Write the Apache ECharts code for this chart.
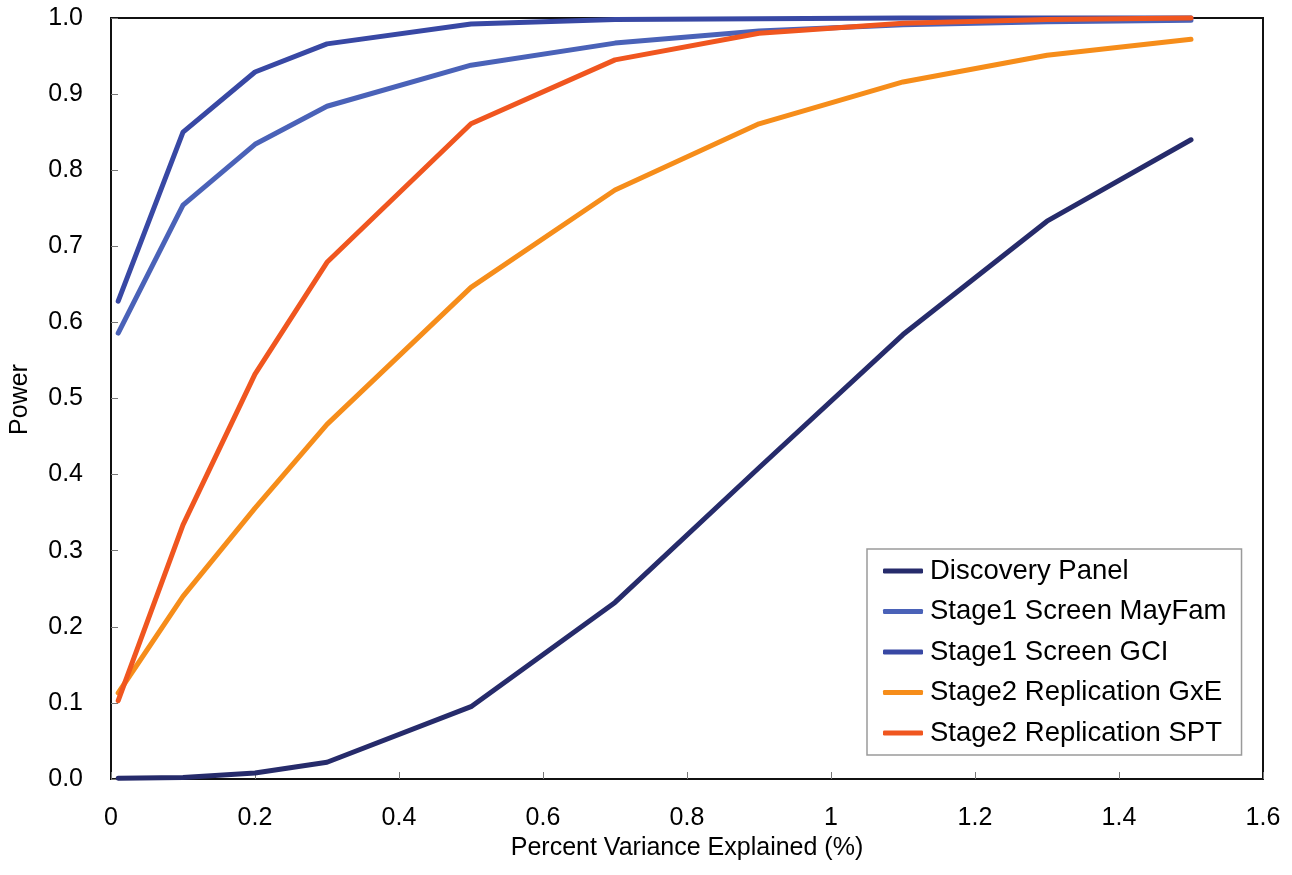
<!DOCTYPE html>
<html>
<head>
<meta charset="utf-8">
<title>Power vs Percent Variance Explained</title>
<script src="https://cdn.jsdelivr.net/npm/echarts@6/dist/echarts.min.js"></script>
<style>
  html, body { margin: 0; padding: 0; background: #ffffff; }
  #chart { width: 1292px; height: 875px; }
</style>
</head>
<body>
<div id="chart"></div>
<script>
// Percent variance explained (x values)
const varianceExplained = [0.01, 0.1, 0.2, 0.3, 0.5, 0.7, 0.9, 1.1, 1.3, 1.5];

// Power for each design
const discoveryPanel      = [0.001, 0.002, 0.008, 0.022, 0.095, 0.232, 0.409, 0.584, 0.733, 0.840];
const stage1MayFam        = [0.586, 0.754, 0.834, 0.884, 0.938, 0.967, 0.983, 0.991, 0.995, 0.997];
const stage1GCI           = [0.628, 0.850, 0.929, 0.966, 0.992, 0.998, 0.999, 1.000, 1.000, 1.000];
const stage2GxE           = [0.113, 0.240, 0.356, 0.466, 0.646, 0.774, 0.861, 0.916, 0.951, 0.972];
const stage2SPT           = [0.103, 0.334, 0.532, 0.679, 0.861, 0.945, 0.980, 0.993, 0.998, 1.000];

const seriesNames = [
  'Discovery Panel',
  'Stage1 Screen MayFam',
  'Stage1 Screen GCI',
  'Stage2 Replication GxE',
  'Stage2 Replication SPT'
];
const seriesValues = [discoveryPanel, stage1MayFam, stage1GCI, stage2GxE, stage2SPT];
const seriesColors = ['#262B6B', '#4A62B8', '#3848A4', '#F68D1A', '#F0561F'];

const FONT = 'Liberation Sans, Arial, sans-serif';

function pairs(ys) {
  return varianceExplained.map((x, i) => [x, ys[i]]);
}

const chart = echarts.init(document.getElementById('chart'), null, { renderer: 'canvas' });

chart.setOption({
  backgroundColor: '#ffffff',
  animation: false,
  textStyle: { fontFamily: FONT, color: '#000' },
  grid: {
    left: 110, right: 29, top: 18, bottom: 96,
    show: true, borderColor: '#111', borderWidth: 2, backgroundColor: 'transparent'
  },
  legend: {
    orient: 'vertical',
    left: 867, top: 549,
    padding: [8, 15, 8, 16],
    itemGap: 12.5,
    itemWidth: 40, itemHeight: 5,
    icon: 'roundRect',
    backgroundColor: '#ffffff',
    borderColor: '#9a9a9a', borderWidth: 1.5,
    textStyle: { fontFamily: FONT, fontSize: 27.5, color: '#000', padding: [0, 0, 0, 2] },
    data: seriesNames
  },
  xAxis: {
    type: 'value',
    min: 0, max: 1.6, interval: 0.2,
    name: 'Percent Variance Explained (%)',
    nameLocation: 'middle',
    nameGap: 53,
    nameTextStyle: { fontFamily: FONT, fontSize: 25, color: '#000' },
    axisLine: { show: true, onZero: false, lineStyle: { color: '#111', width: 2 } },
    axisTick: { show: true, inside: true, length: 7, lineStyle: { color: '#777', width: 1 } },
    axisLabel: { fontFamily: FONT, fontSize: 25, color: '#000', margin: 27 },
    splitLine: { show: false }
  },
  yAxis: {
    type: 'value',
    min: 0, max: 1, interval: 0.1,
    name: 'Power',
    nameLocation: 'middle',
    nameGap: 78,
    nameTextStyle: { fontFamily: FONT, fontSize: 25, color: '#000', padding: [0, 2, 0, 0] },
    axisLine: { show: true, onZero: false, lineStyle: { color: '#111', width: 2 } },
    axisTick: { show: true, inside: true, length: 7, lineStyle: { color: '#777', width: 1 } },
    axisLabel: {
      fontFamily: FONT, fontSize: 25, color: '#000', margin: 28,
      formatter: v => v.toFixed(1)
    },
    splitLine: { show: false }
  },
  series: seriesNames.map((name, i) => ({
    name: name,
    type: 'line',
    data: pairs(seriesValues[i]),
    showSymbol: false,
    symbol: 'none',
    clip: false,
    color: seriesColors[i],
    lineStyle: { color: seriesColors[i], width: 5, cap: 'round', join: 'round' },
    z: 2 + i
  }))
});
</script>
</body>
</html>
